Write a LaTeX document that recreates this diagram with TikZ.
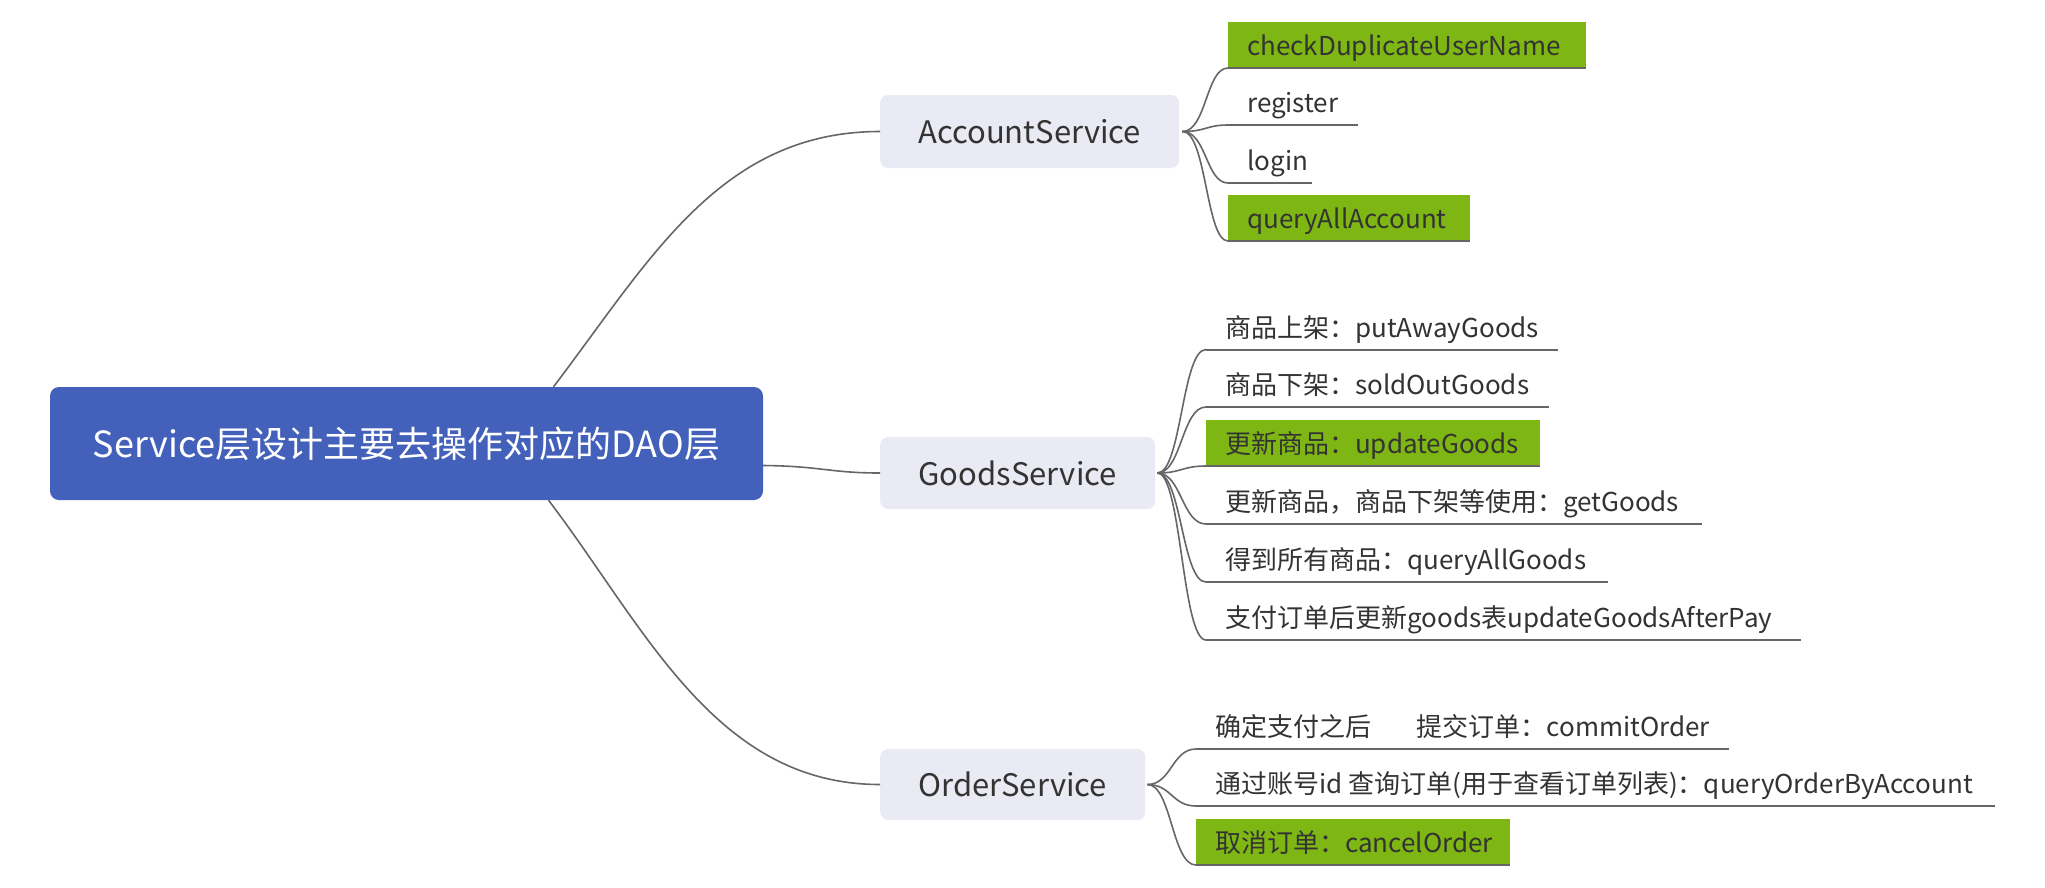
\documentclass[tikz,border=0pt]{standalone}
\usepackage{fontspec}
\setmainfont{Noto Sans CJK SC}
\usetikzlibrary{calc}
\definecolor{rootblue}{HTML}{4361BA}
\definecolor{svcfill}{HTML}{E9EAF3}
\definecolor{leafgreen}{HTML}{7EB713}
\definecolor{linegray}{HTML}{666666}
\definecolor{txt}{HTML}{333333}
\begin{document}
\begin{tikzpicture}[x=1pt,y=-1pt,
  conn/.style={draw=linegray, line width=1.6pt},
  rootbox/.style={fill=rootblue, rounded corners=9pt, minimum width=713pt, minimum height=113pt, inner sep=0pt, text=white, font=\fontsize{36}{40}\selectfont},
  svc/.style={fill=svcfill, rounded corners=8pt, anchor=west, minimum height=72pt, inner sep=0pt, text=txt, font=\fontsize{31}{36}\selectfont},
  leaf/.style={anchor=south west, inner xsep=19pt, inner ysep=0pt, minimum height=46pt, text height=23pt, text depth=1pt, text=txt, font=\fontsize{26}{30}\selectfont},
  hl/.style={fill=leafgreen},
  uline/.style={draw=linegray, line width=2pt}
]
\fill[white] (0,0) rectangle (2045,887);
\useasboundingbox (0,0) rectangle (2045,887);

% root
\node[rootbox] (root) at (406.5,443.5) {Service层设计主要去操作对应的DAO层};

% services
\node[svc, minimum width=299pt, minimum height=73pt] (acc) at (880,131.5) {AccountService};
\node[svc, minimum width=275pt] (goods) at (880,473) {GoodsService};
\node[svc, minimum width=265pt, minimum height=71pt] (order) at (880,784.5) {OrderService};

% account leaves
\node[leaf, hl] (cdun) at (1228,68) {\makebox[320pt][l]{checkDuplicateUserName}};
\node[leaf] (register) at (1228,125) {\makebox[92pt][l]{register}};
\node[leaf] (login) at (1228,183) {\makebox[46pt][l]{login}};
\node[leaf, hl] (qaa) at (1228,241) {\makebox[204pt][l]{queryAllAccount}};

% goods leaves
\node[leaf] (putaway) at (1206,349.5) {\makebox[314pt][l]{商品上架：putAwayGoods}};
\node[leaf] (soldout) at (1206,407) {\makebox[305pt][l]{商品下架：soldOutGoods}};
\node[leaf, hl] (update) at (1206,466) {\makebox[296pt][l]{更新商品：updateGoods}};
\node[leaf] (getgoods) at (1206,524) {\makebox[458pt][l]{更新商品，商品下架等使用：getGoods}};
\node[leaf] (qag) at (1206,582) {\makebox[364pt][l]{得到所有商品：queryAllGoods}};
\node[leaf] (afterpay) at (1206,640) {\makebox[557pt][l]{支付订单后更新goods表updateGoodsAfterPay}};

% order leaves
\node[leaf] (commit) at (1196,749) {\makebox[495pt][l]{确定支付之后\hspace{1.75em}提交订单：commitOrder}};
\node[leaf] (qoba) at (1196,806) {\makebox[761pt][l]{通过账号id 查询订单(用于查看订单列表)：queryOrderByAccount}};
\node[leaf, hl] (cancel) at (1196,865) {\makebox[276pt][l]{取消订单：cancelOrder}};

% underlines
\foreach \n in {cdun,register,login,qaa,putaway,soldout,update,getgoods,qag,afterpay,commit,qoba,cancel}
  \draw[uline] (\n.south west) -- (\n.south east);

% root connectors
\draw[conn] ([xshift=147pt]root.north) .. controls (650,260) and (720,131.5) .. (acc.west);
\draw[conn] ([yshift=-22pt]root.east) .. controls (820,466) and (830,473) .. (goods.west);
\draw[conn] ([xshift=142pt]root.south) .. controls (645,627) and (715,784.5) .. (order.west);

% leaf connectors
\coordinate (ao) at ([xshift=3pt]acc.east);
\coordinate (go) at ([xshift=2pt]goods.east);
\coordinate (oo) at ([xshift=2pt]order.east);
\foreach \n in {cdun,register,login,qaa}
  \draw[conn] (ao) .. controls ($(ao)+(24,0)$) and ($(\n.south west)+(-22,0)$) .. (\n.south west);
\foreach \n in {putaway,soldout,update,getgoods,qag,afterpay}
  \draw[conn] (go) .. controls ($(go)+(24,0)$) and ($(\n.south west)+(-24,0)$) .. (\n.south west);
\foreach \n in {commit,qoba,cancel}
  \draw[conn] (oo) .. controls ($(oo)+(24,0)$) and ($(\n.south west)+(-24,0)$) .. (\n.south west);
\end{tikzpicture}
\end{document}
